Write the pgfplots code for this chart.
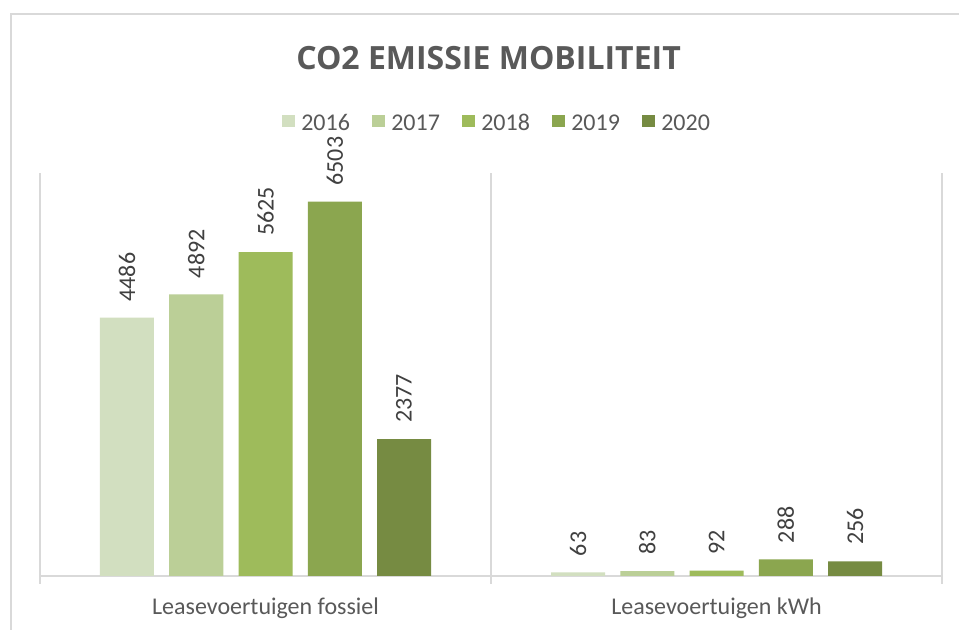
\documentclass[border=0pt]{standalone}
\usepackage{pgfplots}
\pgfplotsset{compat=1.18}
\usepackage{fontspec}
\setmainfont{Carlito}
\newfontfamily\titlefont{Open Sans}
\definecolor{cA}{HTML}{D2DFC0}
\definecolor{cB}{HTML}{BBCF97}
\definecolor{cC}{HTML}{9EBB5B}
\definecolor{cD}{HTML}{8BA64F}
\definecolor{cE}{HTML}{768B42}
\definecolor{txt}{HTML}{595959}
\definecolor{lbl}{HTML}{404040}
\definecolor{gridc}{HTML}{D9D9D9}
\begin{document}
\begin{tikzpicture}
\useasboundingbox (0,0) rectangle (719.25pt,472.5pt);
\fill[white] (0,0) rectangle (719.25pt,472.5pt);
\draw[gridc, line width=1.5pt] (7.9pt,0) -- (7.9pt,462pt) -- (719.25pt,462pt);
\node[anchor=base, text=txt, font=\titlefont\bfseries\fontsize{24pt}{28pt}\selectfont, inner sep=0pt] at (366.4pt,420pt) {CO2 EMISSIE MOBILITEIT};
\begin{axis}[
  at={(30pt,40.5pt)}, anchor=south west,
  scale only axis, width=676.5pt, height=302.25pt,
  ybar=11.44pt, bar width=40.5pt,
  xmin=-0.5, xmax=1.5, ymin=0, ymax=7000,
  enlargelimits=false,
  axis x line*=bottom, axis y line=none,
  x axis line style={gridc, line width=1.5pt},
  xtick={0,1},
  xticklabels={Leasevoertuigen fossiel, Leasevoertuigen kWh},
  major tick length=0pt,
  xticklabel style={anchor=base, yshift=-29.25pt, text=txt, font=\fontsize{18pt}{21pt}\selectfont},
  extra x ticks={-0.5,0.5,1.5},
  extra x tick labels={},
  extra x tick style={grid=major, major tick length=6pt, tick align=outside, tick style={gridc, line width=1.5pt}},
  major grid style={gridc, line width=1.5pt},
  ytick=\empty,
  clip=false,
  /pgf/number format/.cd, 1000 sep={}, assume math mode=true, /pgfplots/.cd,
  nodes near coords,
  every node near coord/.append style={rotate=90, anchor=west, inner xsep=12pt, inner ysep=0pt, text=lbl, font=\fontsize{18pt}{21pt}\selectfont},
  legend columns=5,
  legend style={draw=none, fill=none, at={(0.5055,1.1266)}, anchor=center, text=txt, font=\fontsize{18pt}{21pt}\selectfont,
    nodes={inner sep=0pt}, column sep=0pt,
    /tikz/every even column/.append style={column sep=16.5pt}},
  legend image code/.code={\fill[#1] (0pt,-4pt) rectangle (10pt,5pt); \path (14.5pt,0pt);},
]
\addplot[fill=cA, draw=none] coordinates {(0,4486) (1,63)};
\addplot[fill=cB, draw=none] coordinates {(0,4892) (1,83)};
\addplot[fill=cC, draw=none] coordinates {(0,5625) (1,92)};
\addplot[fill=cD, draw=none] coordinates {(0,6503) (1,288)};
\addplot[fill=cE, draw=none] coordinates {(0,2377) (1,256)};
\legend{\strut 2016,\strut 2017,\strut 2018,\strut 2019,\strut 2020}
\end{axis}
\end{tikzpicture}
\end{document}
